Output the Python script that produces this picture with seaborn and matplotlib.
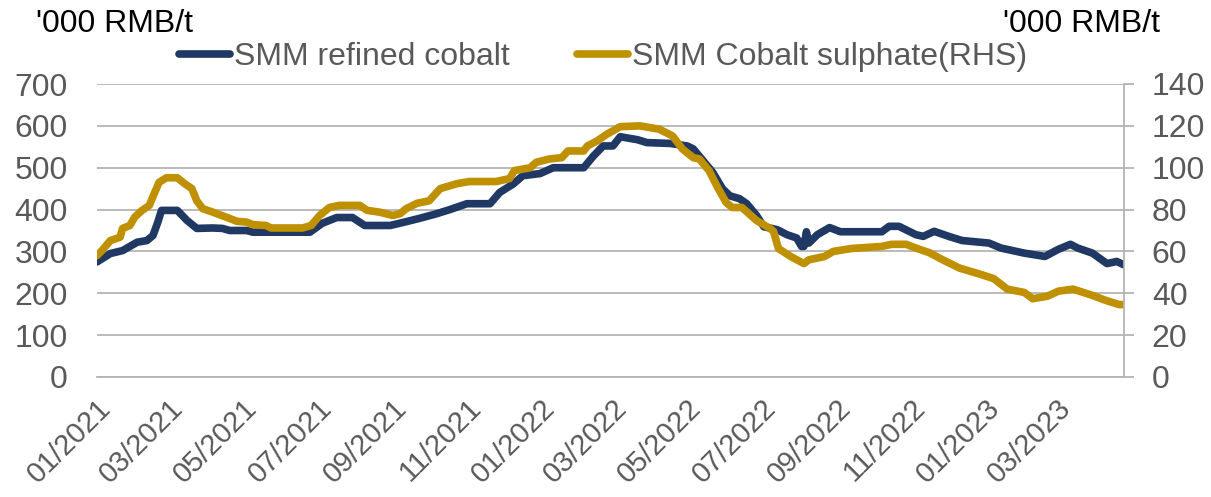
import numpy as np
import pandas as pd
import matplotlib
matplotlib.use("Agg")
import matplotlib.pyplot as plt
import matplotlib.dates as mdates
import seaborn as sns

# SMM refined cobalt, '000 RMB/t (left axis)
cobalt_dates = ["2021-01-01", "2021-01-12", "2021-01-22", "2021-02-03", "2021-02-11", "2021-02-16",
                "2021-02-20", "2021-02-23", "2021-03-08", "2021-03-16", "2021-03-24", "2021-04-06",
                "2021-04-14", "2021-04-20", "2021-05-04", "2021-05-09", "2021-06-25", "2021-07-05",
                "2021-07-17", "2021-07-30", "2021-08-09", "2021-08-30", "2021-09-12", "2021-09-23",
                "2021-10-07", "2021-10-18", "2021-11-01", "2021-11-20", "2021-11-28", "2021-12-09",
                "2021-12-17", "2021-12-31", "2022-01-11", "2022-02-05", "2022-02-13", "2022-02-21",
                "2022-03-01", "2022-03-07", "2022-03-21", "2022-03-29", "2022-04-17", "2022-05-01",
                "2022-05-06", "2022-05-14", "2022-05-22", "2022-05-30", "2022-06-05", "2022-06-13",
                "2022-06-19", "2022-06-27", "2022-07-03", "2022-07-14", "2022-07-22", "2022-07-30",
                "2022-08-03", "2022-08-05", "2022-08-07", "2022-08-09", "2022-08-16", "2022-08-26",
                "2022-09-04", "2022-10-08", "2022-10-14", "2022-10-22", "2022-11-05", "2022-11-11",
                "2022-11-20", "2022-12-03", "2022-12-13", "2023-01-04", "2023-01-14", "2023-02-02",
                "2023-02-19", "2023-03-02", "2023-03-12", "2023-03-18", "2023-03-30", "2023-04-11",
                "2023-04-19", "2023-04-25"]
cobalt_vals = [275, 295, 302, 322, 326, 338,
               370, 398, 398, 374, 355, 356,
               355, 350, 350, 346, 346, 367,
               381, 381, 362, 362, 371, 379,
               390, 400, 414, 414, 441, 461,
               481, 486, 500, 500, 528, 552,
               552, 574, 567, 560, 558, 552,
               545, 517, 489, 450, 433, 426,
               414, 386, 359, 352, 340, 332,
               312, 312, 347, 320, 340, 357,
               347, 347, 360, 360, 340, 336,
               348, 335, 326, 320, 308, 296,
               288, 305, 317, 308, 296, 271,
               276, 268]

# SMM cobalt sulphate, '000 RMB/t (right axis)
sulphate_dates = ["2021-01-01", "2021-01-05", "2021-01-12", "2021-01-20", "2021-01-22", "2021-01-28",
                  "2021-02-01", "2021-02-07", "2021-02-13", "2021-02-17", "2021-02-21", "2021-02-27",
                  "2021-03-08", "2021-03-14", "2021-03-20", "2021-03-24", "2021-03-29", "2021-04-06",
                  "2021-04-17", "2021-04-26", "2021-05-04", "2021-05-09", "2021-05-20", "2021-05-24",
                  "2021-06-19", "2021-06-26", "2021-07-03", "2021-07-11", "2021-07-19", "2021-08-05",
                  "2021-08-11", "2021-08-21", "2021-09-01", "2021-09-07", "2021-09-12", "2021-09-21",
                  "2021-10-01", "2021-10-10", "2021-10-24", "2021-11-03", "2021-11-25", "2021-12-06",
                  "2021-12-10", "2021-12-23", "2021-12-28", "2022-01-08", "2022-01-18", "2022-01-23",
                  "2022-02-05", "2022-02-08", "2022-02-16", "2022-02-24", "2022-03-07", "2022-03-23",
                  "2022-04-08", "2022-04-19", "2022-04-27", "2022-05-06", "2022-05-11", "2022-05-19",
                  "2022-05-26", "2022-06-02", "2022-06-07", "2022-06-15", "2022-06-27", "2022-07-08",
                  "2022-07-11", "2022-07-15", "2022-07-25", "2022-08-05", "2022-08-09", "2022-08-22",
                  "2022-08-29", "2022-09-13", "2022-10-08", "2022-10-16", "2022-10-28", "2022-11-05",
                  "2022-11-16", "2022-11-27", "2022-12-11", "2022-12-25", "2023-01-08", "2023-01-19",
                  "2023-02-02", "2023-02-09", "2023-02-21", "2023-03-02", "2023-03-14", "2023-03-30",
                  "2023-04-10", "2023-04-21", "2023-04-25"]
sulphate_vals = [58.0, 60.4, 65.2, 66.8, 71.0, 72.4,
                 76.4, 79.6, 82.0, 87.6, 93.0, 95.2,
                 95.2, 92.4, 90.0, 84.2, 80.4, 78.8,
                 76.4, 74.4, 74.0, 72.8, 72.4, 71.2,
                 71.2, 72.4, 77.2, 81.0, 82.0, 82.0,
                 79.6, 78.8, 77.2, 78.0, 80.4, 83.0,
                 84.2, 90.0, 92.4, 93.4, 93.4, 94.8,
                 98.6, 100.0, 102.6, 104.2, 104.8, 108.0,
                 108.0, 110.4, 112.8, 116.0, 119.6, 120.0,
                 118.4, 115.2, 109.0, 104.8, 104.2, 98.6,
                 90.6, 83.4, 81.0, 81.0, 74.8, 71.0,
                 69.6, 61.4, 57.6, 54.2, 56.0, 57.6,
                 60.0, 61.4, 62.4, 63.4, 63.4, 61.6,
                 59.4, 56.0, 52.0, 49.6, 47.0, 42.0,
                 40.4, 37.4, 38.6, 41.0, 42.0, 39.0,
                 36.6, 34.6, 34.6]

left_ticks = [0, 100, 200, 300, 400, 500, 600, 700]
right_ticks = [0, 20, 40, 60, 80, 100, 120, 140]

cobalt = pd.DataFrame({"date": pd.to_datetime(cobalt_dates), "price": cobalt_vals})
sulphate = pd.DataFrame({"date": pd.to_datetime(sulphate_dates), "price": sulphate_vals})

sns.set_style("white")
plt.rcParams['font.family'] = ['Liberation Sans', 'DejaVu Sans']

BLUE = "#203864"
GOLD = "#BF9000"
GREY_TXT = "#595959"
GRID = "#B4B4B4"
FS = 23

fig = plt.figure(figsize=(12.11, 4.97), dpi=100)
ax = fig.add_axes([97 / 1211, 1 - 377 / 497, (1124 - 97) / 1211, (377 - 84) / 497])
ax2 = ax.twinx()

sns.lineplot(data=cobalt, x="date", y="price", ax=ax, color=BLUE, lw=5.5,
             label="SMM refined cobalt", legend=False, solid_capstyle="round")
sns.lineplot(data=sulphate, x="date", y="price", ax=ax2, color=GOLD, lw=5.5,
             label="SMM Cobalt sulphate(RHS)", legend=False, solid_capstyle="round")

ax.set_xlim(pd.Timestamp("2021-01-01"), pd.Timestamp("2023-04-25"))
ax.set_ylim(0, 700)
ax2.set_ylim(0, 140)
ax.set_yticks(left_ticks)
ax2.set_yticks(right_ticks)
ax.set_xlabel("")
ax.set_ylabel("")
ax2.set_ylabel("")

ax.yaxis.grid(True, color=GRID, lw=1.3)
ax.set_axisbelow(True)

ax.xaxis.set_major_locator(mdates.MonthLocator(bymonth=[1, 3, 5, 7, 9, 11]))
ax.xaxis.set_major_formatter(mdates.DateFormatter("%m/%Y"))

for s in ["top", "left", "right"]:
    ax.spines[s].set_visible(False)
ax.spines["bottom"].set_color(GRID)
ax.spines["bottom"].set_linewidth(1.3)
for s in ["top", "left", "bottom"]:
    ax2.spines[s].set_visible(False)
ax2.spines["right"].set_color(GRID)
ax2.spines["right"].set_linewidth(1.3)

ax.tick_params(axis="y", length=0, pad=21, labelsize=FS, labelcolor=GREY_TXT)
ax.tick_params(axis="x", length=7, width=1.3, color=GRID, direction="out",
               pad=5, labelsize=21, labelcolor=GREY_TXT)
ax2.tick_params(axis="y", length=7, width=1.3, color=GRID, direction="out",
                pad=13, labelsize=FS, labelcolor=GREY_TXT)
plt.setp(ax.get_xticklabels(), rotation=45, ha="right", rotation_mode="anchor")

h1, l1 = ax.get_legend_handles_labels()
h2, l2 = ax2.get_legend_handles_labels()
leg = fig.legend(h1 + h2, l1 + l2, loc="center", bbox_to_anchor=(603 / 1211, 1 - 57 / 497),
                 ncol=2, frameon=False, fontsize=FS, handlelength=1.6,
                 handletextpad=0.12, columnspacing=2.1, borderaxespad=0)
for t in leg.get_texts():
    t.set_color(GREY_TXT)

fig.text(36 / 1211, 1 - 24 / 497, "'000 RMB/t", fontsize=FS, color="black",
         ha="left", va="center")
fig.text(1160 / 1211, 1 - 24 / 497, "'000 RMB/t", fontsize=FS, color="black",
         ha="right", va="center")

fig.savefig("out.png", dpi=100)
